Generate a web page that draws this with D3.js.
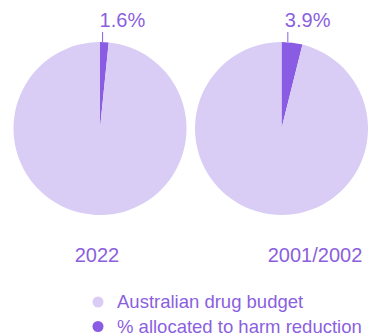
<!DOCTYPE html>
<html>
<head>
<meta charset="utf-8">
<script src="https://cdn.jsdelivr.net/npm/d3@7"></script>
<style>
  body { margin: 0; background: #fff; }
  text { font-family: "Liberation Sans", Arial, sans-serif; fill: #8b5fe0; }
</style>
</head>
<body>
<div id="chart"></div>
<script>
// Datos
const years = ['2022', '2001/2002'];
const harmShare = [1.6, 3.9];
const seriesNames = ['Australian drug budget', '% allocated to harm reduction'];
const colors = ['#d9cdf6', '#8a5ce3'];

const width = 378;
const height = 335;
const radius = 86.5;

const svg = d3
	.select('#chart')
	.append('svg')
	.attr('width', width)
	.attr('height', height);

// Posición de cada pastel
const x = d3.scalePoint().domain(years).range([100, 281.5]);
const cy = 128.5;

const pie = d3.pie().sort(null).value((d) => d);
const arc = d3.arc().innerRadius(0).outerRadius(radius);

years.forEach((year, i) => {
	// harm reduction primero para que empiece a las 12
	const values = [harmShare[i], 100 - harmShare[i]];
	const g = svg.append('g').attr('transform', `translate(${x(year)},${cy})`);

	const arcs = pie(values);
	g.selectAll('path')
		.data(arcs)
		.enter()
		.append('path')
		.attr('fill', (d, j) => colors[1 - j])
		.attr('d', arc);

	// Línea y etiqueta del porcentaje
	const mid = (arcs[0].startAngle + arcs[0].endAngle) / 2;
	const lx = Math.sin(mid) * radius * 0.6;
	g.append('line')
		.attr('x1', lx)
		.attr('x2', lx)
		.attr('y1', -radius)
		.attr('y2', -radius - 10)
		.attr('stroke', colors[1])
		.attr('stroke-width', 1);

	g.append('text')
		.attr('x', lx - 3)
		.attr('y', -radius - 15)
		.attr('font-size', 20)
		.text(harmShare[i] + '%');

	// Año
	svg.append('text')
		.attr('x', i === 0 ? 97 : 315)
		.attr('y', 262)
		.attr('text-anchor', 'middle')
		.attr('font-size', 20)
		.text(year);
});

// Leyenda
const legend = svg
	.selectAll('.legend')
	.data(seriesNames)
	.enter()
	.append('g')
	.attr('transform', (d, i) => `translate(98,${302 + i * 24.5})`);

legend.append('circle').attr('r', 5.5).attr('fill', (d, i) => colors[i]);

legend.append('text')
	.attr('x', 19)
	.attr('y', 6)
	.attr('font-size', 18.5)
	.text((d) => d);
</script>
</body>
</html>
